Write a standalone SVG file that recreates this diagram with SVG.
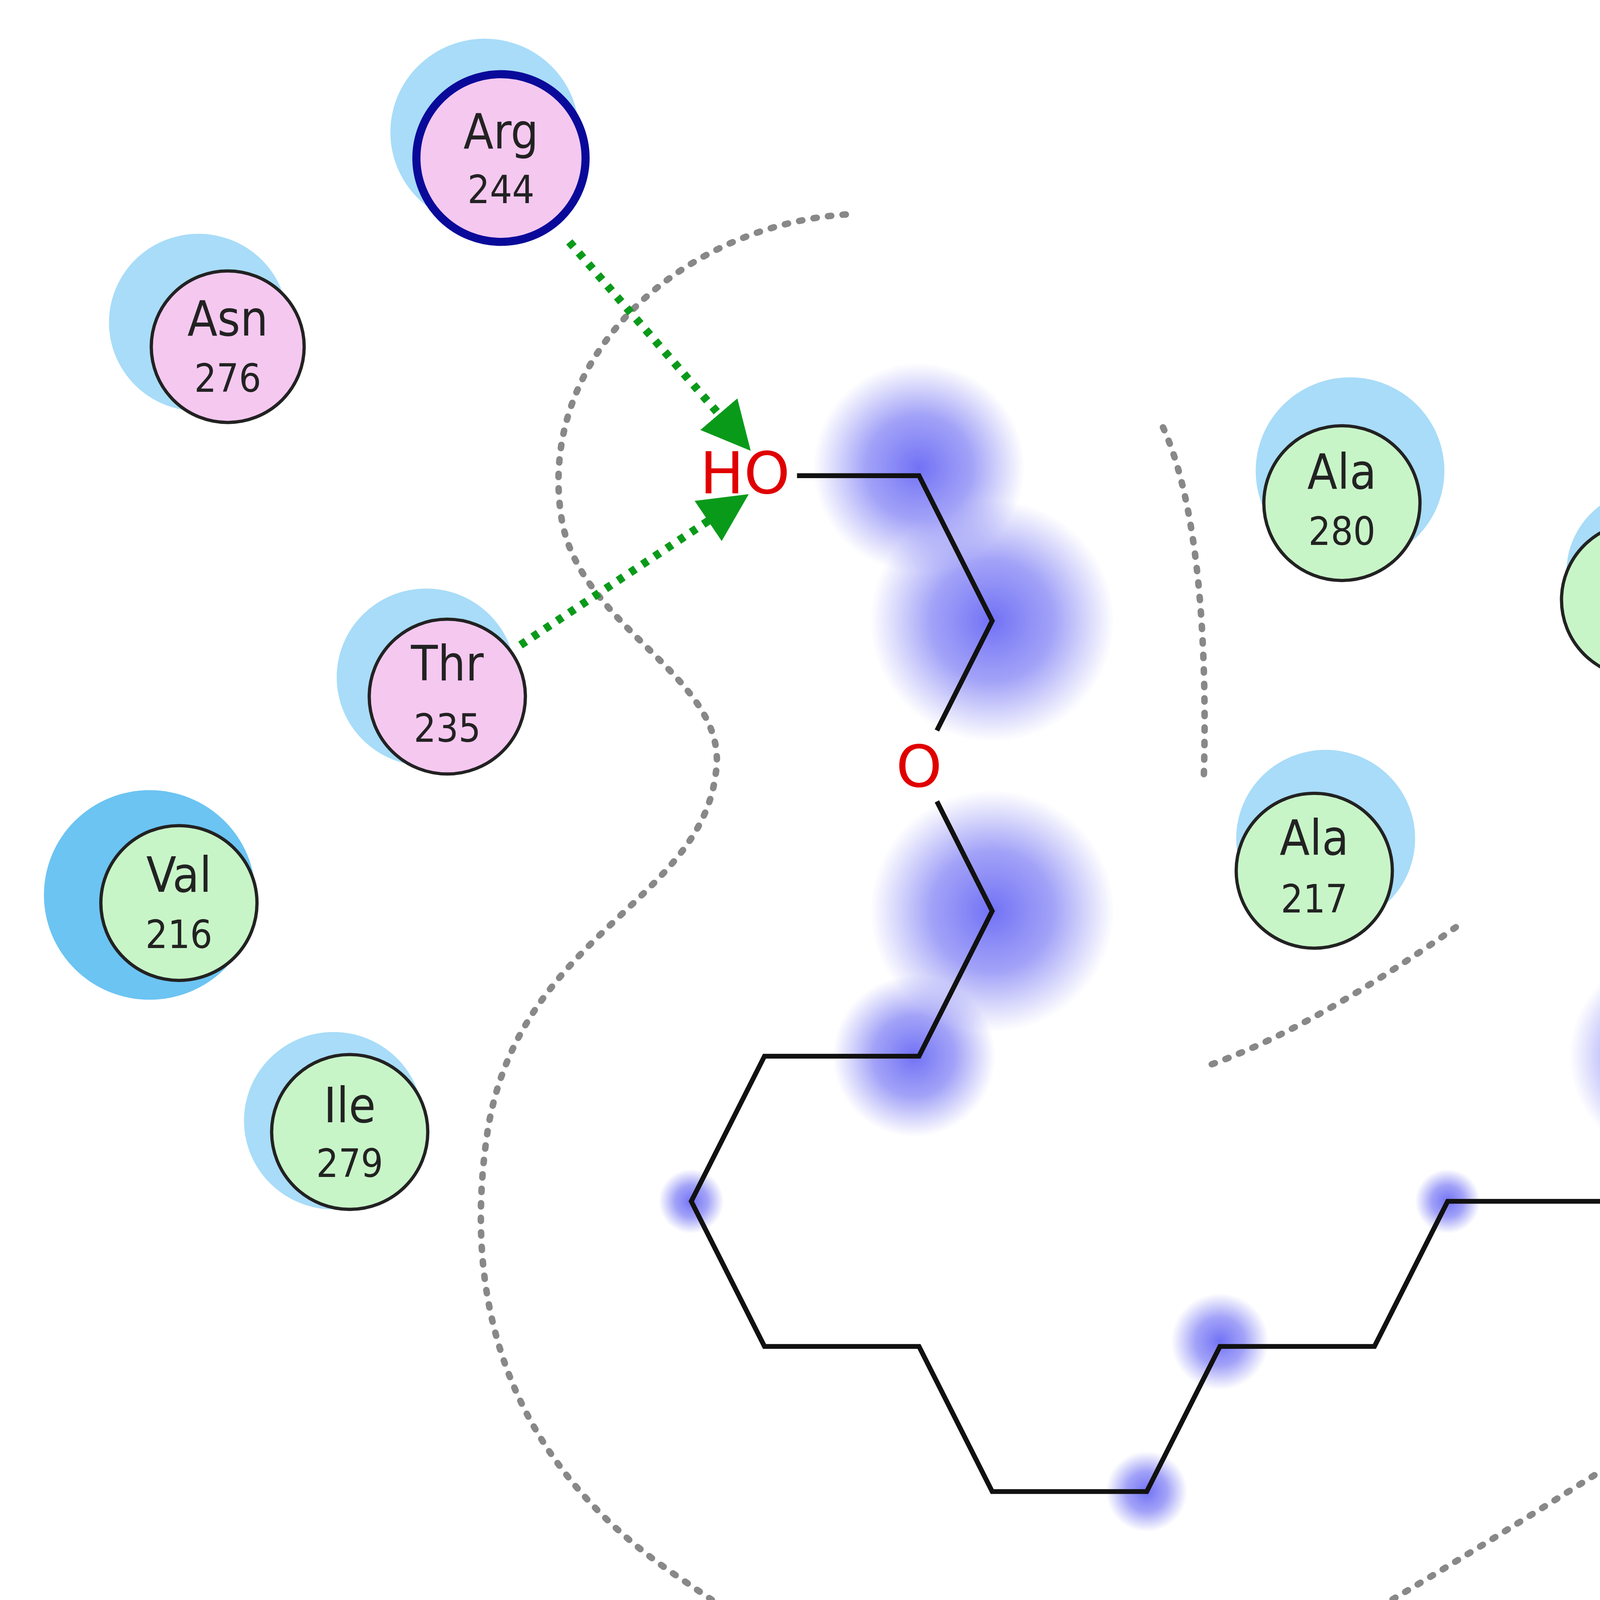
<svg xmlns="http://www.w3.org/2000/svg" width="6454" height="5061" viewBox="0 0 6454 5061">
<defs>
<style>
.res{stroke:#222;stroke-width:2}
.pink{fill:#f5c8f0}
.green{fill:#c8f5c8}
.halo{fill:#a8dcf8}
.t{font-family:"DejaVu Sans Condensed","DejaVu Sans",sans-serif;text-anchor:middle;fill:#222}
.n{font-size:30px}
.d{font-size:24px}
.dot{fill:none;stroke:#888;stroke-width:4;stroke-dasharray:2 7;stroke-linecap:round}
.hb{stroke:#0a9a1a;stroke-width:5;stroke-dasharray:4 5;marker-end:url(#ah)}
</style>
<radialGradient id="g"><stop offset="0" stop-color="#6a6af5" stop-opacity="0.95"/><stop offset="0.5" stop-color="#7a7af5" stop-opacity="0.7"/><stop offset="1" stop-color="#8080f5" stop-opacity="0"/></radialGradient>
<radialGradient id="g2"><stop offset="0" stop-color="#7070f5"/><stop offset="0.55" stop-color="#7a7af5"/><stop offset="1" stop-color="#8a8af5" stop-opacity="0"/></radialGradient>
<marker id="ah" markerWidth="6" markerHeight="6" refX="4" refY="3" orient="auto"><path d="M0,0L6,3L0,6z" fill="#0a9a1a"/></marker>
</defs>
<rect width="6454" height="5061" fill="#fff"/>
<g transform="scale(4.164,4.128)">
<g id="glows">
<circle cx="565" cy="290" r="65" fill="url(#g)"/>
<circle cx="610" cy="385" r="75" fill="url(#g)"/>
<circle cx="610" cy="565" r="75" fill="url(#g)"/>
<circle cx="562" cy="655" r="50" fill="url(#g)"/>
<circle cx="425" cy="745" r="20" fill="url(#g)"/>
<circle cx="750" cy="832" r="30" fill="url(#g)"/>
<circle cx="705" cy="925" r="25" fill="url(#g)"/>
<circle cx="890" cy="745" r="20" fill="url(#g)"/>
<circle cx="1030" cy="655" r="65" fill="url(#g)"/>
<circle cx="1125" cy="660" r="30" fill="url(#g)"/>
<circle cx="1170" cy="555" r="65" fill="url(#g)"/>
<circle cx="1265" cy="575" r="40" fill="url(#g)"/>
<circle cx="1300" cy="465" r="75" fill="url(#g)"/>
<circle cx="1410" cy="475" r="118" fill="url(#g2)"/>
</g>
<g id="connectors">
<path class="dot" d="M520,133 C420,140 330,220 345,320 C355,390 450,420 440,480 C430,560 320,580 300,700 C280,830 330,920 420,980 C520,1050 600,1090 700,1070 C800,1040 1000,900 1400,645"/>
<path class="dot" d="M715,265 C740,320 742,420 740,485"/>
<path class="dot" d="M745,660 C800,640 860,600 895,575"/>
<line class="hb" x1="350" y1="150" x2="455" y2="272"/>
<line class="hb" x1="320" y1="400" x2="452" y2="312"/>
</g>
<g id="ligand">
<polyline fill="none" stroke="#111" stroke-width="3" points="490,295 565,295 610,385 576,453"/>
<polyline fill="none" stroke="#111" stroke-width="3" points="576,497 610,565 565,655 470,655 425,745 470,835 565,835 610,925 705,925 750,835 845,835 890,745 985,745 1030,655 1125,655 1170,565 1265,565 1310,475 1405,475"/>
<text x="458" y="306" font-family="DejaVu Sans,sans-serif" font-size="36" fill="#e00000" text-anchor="middle">HO</text>
<text x="565" y="488" font-family="DejaVu Sans,sans-serif" font-size="36" fill="#e00000" text-anchor="middle">O</text>
</g>
<g id="Arg244"><circle class="halo" cx="298" cy="82" r="58"/><circle cx="308" cy="98" r="52" class="pink" stroke="#0a0a9a" stroke-width="5"/><text class="t n" x="308" y="92">Arg</text><text class="t d" x="308" y="126">244</text></g>
<g id="Asn276"><circle class="halo" cx="122" cy="200" r="55"/><circle class="res pink" cx="140" cy="215" r="47"/><text class="t n" x="140" y="208">Asn</text><text class="t d" x="140" y="243">276</text></g>
<g id="Thr235"><circle class="halo" cx="262" cy="420" r="55"/><circle class="res pink" cx="275" cy="432" r="48"/><text class="t n" x="275" y="422">Thr</text><text class="t d" x="275" y="460">235</text></g>
<g id="Val216"><circle cx="92" cy="555" r="65" fill="#6cc4f2"/><circle class="res green" cx="110" cy="560" r="48"/><text class="t n" x="110" y="553">Val</text><text class="t d" x="110" y="588">216</text></g>
<g id="Ile279"><circle class="halo" cx="205" cy="695" r="55"/><circle class="res green" cx="215" cy="702" r="48"/><text class="t n" x="215" y="696">Ile</text><text class="t d" x="215" y="730">279</text></g>
<g id="Ala280"><circle class="halo" cx="830" cy="292" r="58"/><circle class="res green" cx="825" cy="312" r="48"/><text class="t n" x="825" y="303">Ala</text><text class="t d" x="825" y="338">280</text></g>
<g id="Ile221"><circle class="halo" cx="1015" cy="355" r="52"/><circle class="res green" cx="1008" cy="372" r="48"/><text class="t n" x="1008" y="366">Ile</text><text class="t d" x="1008" y="400">221</text></g>
<g id="Ala217"><circle class="halo" cx="815" cy="520" r="55"/><circle class="res green" cx="808" cy="540" r="48"/><text class="t n" x="808" y="530">Ala</text><text class="t d" x="808" y="566">217</text></g>
<g id="Val224"><circle cx="1325" cy="945" r="70" fill="#6cc4f2"/><circle class="res green" cx="1310" cy="932" r="48"/><text class="t n" x="1310" y="925">Val</text><text class="t d" x="1310" y="962">224</text></g>
<g id="Leu220"><circle cx="915" cy="1138" r="67" fill="#33b5f0"/><circle class="res green" cx="905" cy="1112" r="50"/><text class="t n" x="905" y="1096">Leu</text><text class="t d" x="905" y="1133">220</text></g>
</g>
</svg>
